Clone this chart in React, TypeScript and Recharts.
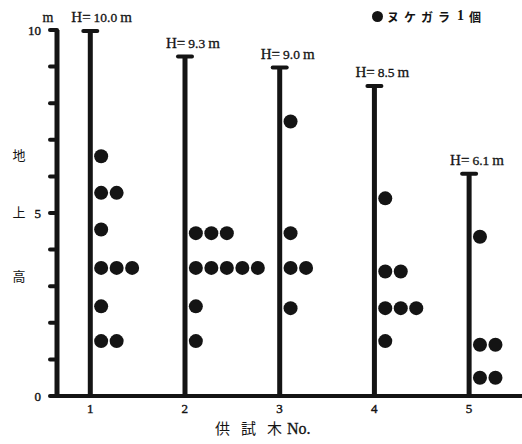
import React from 'react';
import { ComposedChart, Bar, Scatter, XAxis, YAxis } from 'recharts';

// tree numbers and their heights (m)
const treeNos = [1, 2, 3, 4, 5];
const treeHeights = [10.0, 9.3, 9.0, 8.5, 6.1];
const heightLabels = ['10.0', '9.3', '9.0', '8.5', '6.1'];

// cast skins: tree no., height on the trunk (m), number of skins at that height
const shellTree = [1, 1, 1, 1, 1, 1, 2, 2, 2, 2, 3, 3, 3, 3, 4, 4, 4, 4, 5, 5, 5];
const shellHeight = [6.55, 5.55, 4.55, 3.5, 2.45, 1.5, 4.45, 3.5, 2.45, 1.5, 7.5, 4.45, 3.5, 2.4, 5.4, 3.4, 2.4, 1.5, 4.35, 1.4, 0.5];
const shellCount = [1, 2, 1, 3, 1, 2, 3, 5, 1, 1, 1, 1, 2, 1, 1, 2, 3, 1, 1, 2, 2];

const yTicks = [0, 1, 2, 3, 4, 5, 6, 7, 8, 9, 10];
const yLabelled = [0, 5, 10];

const INK = '#141414';
const SERIF = '"Liberation Serif", "DejaVu Serif", serif';
const CJK = '"Noto Sans CJK JP", "Noto Sans CJK SC", sans-serif';

const treeData = treeNos.map((t, i) => ({ tree: t, H: treeHeights[i], label: heightLabels[i] }));
const shellData = shellTree.map((t, i) => ({ tree: t, h: shellHeight[i], n: shellCount[i] }));

const Pole = (props: any) => {
  const { x, y, width, height, payload } = props;
  const cx = x + width / 2;
  return (
    <g>
      <rect x={x} y={y} width={width} height={height} fill={INK} />
      <line x1={cx - 7} x2={cx + 7} y1={y + 1} y2={y + 1} stroke={INK} strokeWidth={4} strokeLinecap="round" />
      <text x={cx - 19} y={y - 8} fill={INK} fontFamily={SERIF} stroke={INK} strokeWidth={0.3}>
        <tspan fontSize={15}>H</tspan>
        <tspan fontSize={15}>=</tspan>
        <tspan fontSize={13.5} dx={3}>{payload.label}</tspan>
        <tspan fontSize={15} dx={3}>m</tspan>
      </text>
    </g>
  );
};

const Shells = (props: any) => {
  const { cx, cy, payload } = props;
  const circles = [];
  for (let k = 0; k < payload.n; k++) {
    circles.push(<circle key={k} cx={cx + 11 + k * 15.5} cy={cy} r={7} fill={INK} />);
  }
  return <g>{circles}</g>;
};

const YTitle = (props: any) => {
  const vb = props.viewBox || { x: 0, y: 30, width: 57, height: 366 };
  const x = vb.x + 19;
  return (
    <g fill={INK}>
      <text x={vb.x + 48} y={vb.y - 8} fontFamily={SERIF} fontSize={14} textAnchor="middle" stroke={INK} strokeWidth={0.3}>m</text>
      <text x={x} y={vb.y + vb.height * 0.34} fontFamily={CJK} fontSize={13} textAnchor="middle" dominantBaseline="central">地</text>
      <text x={x} y={vb.y + vb.height * 0.495} fontFamily={CJK} fontSize={13} textAnchor="middle" dominantBaseline="central">上</text>
      <text x={x} y={vb.y + vb.height * 0.67} fontFamily={CJK} fontSize={13} textAnchor="middle" dominantBaseline="central">高</text>
    </g>
  );
};

const XTitle = (props: any) => {
  const vb = props.viewBox || { x: 57, y: 396, width: 465, height: 48 };
  return (
    <text x={vb.x + 158} y={vb.y + 38} fill={INK} fontSize={15}>
      <tspan fontFamily={CJK} letterSpacing={11}>供試</tspan>
      <tspan fontFamily={CJK}>木</tspan>
      <tspan fontFamily={SERIF} dx={5} fontSize={16} stroke={INK} strokeWidth={0.3}>No.</tspan>
    </text>
  );
};

export default function App() {
  return (
    <div style={{ position: 'fixed', left: 0, top: 0, width: 522, height: 444, background: '#fff' }}>
      <ComposedChart
        width={522}
        height={444}
        data={treeData}
        margin={{ top: 30, right: 0, bottom: 0, left: 0 }}
      >
        <XAxis
          dataKey="tree"
          type="number"
          domain={[0.65, 5.56]}
          allowDataOverflow
          ticks={treeNos}
          height={48}
          axisLine={{ stroke: INK, strokeWidth: 4 }}
          tickLine={false}
          tickSize={6}
          tickMargin={2}
          tick={{ fill: INK, fontSize: 13, fontFamily: SERIF, stroke: INK, strokeWidth: 0.4 }}
          label={<XTitle />}
        />
        <YAxis
          type="number"
          domain={[0, 10]}
          ticks={yTicks}
          width={57}
          interval={0}
          axisLine={{ stroke: INK, strokeWidth: 5 }}
          tickLine={{ stroke: INK, strokeWidth: 4, strokeLinecap: 'round' } as any}
          tickSize={7}
          tickMargin={9}
          tickFormatter={(v: number) => (yLabelled.includes(v) ? String(v) : '')}
          tick={{ fill: INK, fontSize: 13, fontFamily: SERIF, stroke: INK, strokeWidth: 0.4 }}
          label={<YTitle />}
        />
        <Bar dataKey="H" barSize={5} shape={<Pole />} isAnimationActive={false} />
        <Scatter data={shellData} dataKey="h" shape={<Shells />} isAnimationActive={false} />
      </ComposedChart>
      <div
        style={{
          position: 'absolute',
          left: 372,
          top: 8,
          height: 16,
          display: 'flex',
          alignItems: 'center',
          fontFamily: CJK,
          fontSize: 12,
          fontWeight: 700,
          color: INK,
          whiteSpace: 'nowrap',
        }}
      >
        <span style={{ display: 'inline-block', width: 11, height: 11, borderRadius: '50%', background: INK, marginRight: 4 }} />
        <span style={{ letterSpacing: 5 }}>ヌケガラ</span>
        <span style={{ fontFamily: SERIF, fontSize: 14, marginLeft: 2, marginRight: 5 }}>1</span>
        <span>個</span>
      </div>
    </div>
  );
}
